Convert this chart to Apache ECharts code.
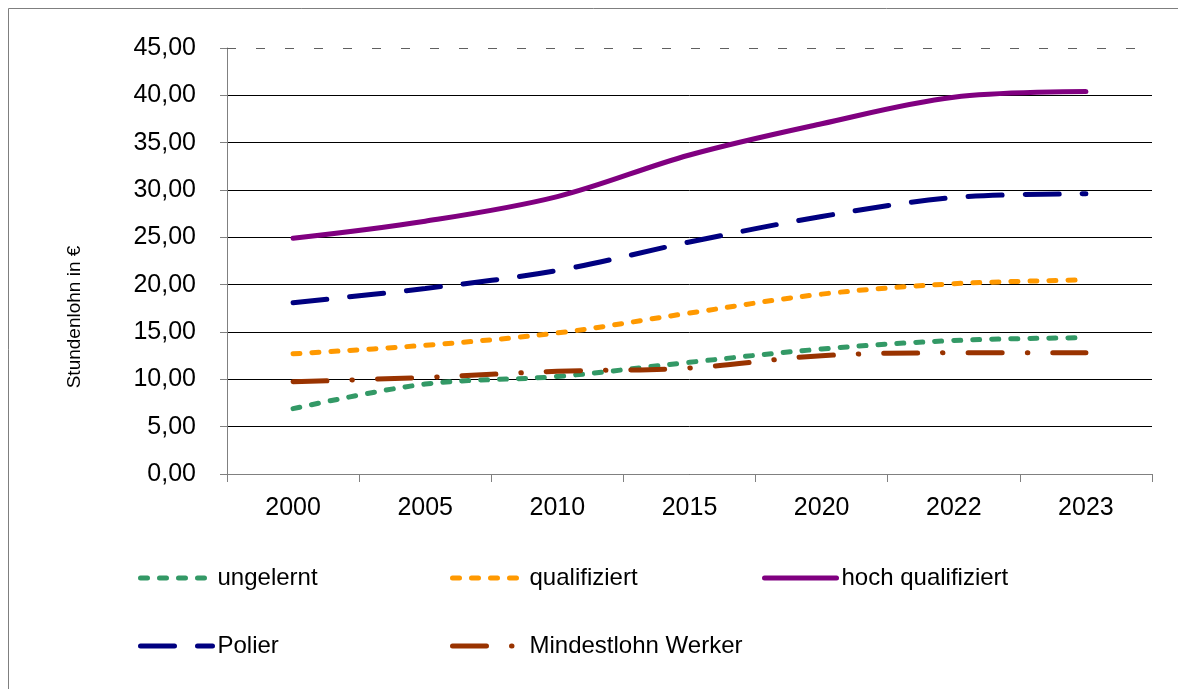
<!DOCTYPE html>
<html>
<head>
<meta charset="utf-8">
<script src="https://cdn.jsdelivr.net/npm/echarts@6/dist/echarts.min.js"></script>
<style>
html,body{margin:0;padding:0;background:#fff;}
#chart{width:1178px;height:689px;}
</style>
</head>
<body>
<div id="chart"></div>
<script>
const categories = ['2000', '2005', '2010', '2015', '2020', '2022', '2023'];
const ungelernt = [6.9, 9.5, 10.3, 11.8, 13.2, 14.1, 14.4];
const qualifiziert = [12.7, 13.6, 14.9, 17.0, 19.0, 20.1, 20.5];
const hochQualifiziert = [24.9, 26.7, 29.3, 33.7, 37.0, 39.8, 40.4];
const polier = [18.1, 19.6, 21.5, 24.5, 27.2, 29.2, 29.6];
const mindestlohn = [9.75, 10.2, 10.85, 11.2, 12.5, 12.8, 12.8];
const yTicks = [0, 5, 10, 15, 20, 25, 30, 35, 40, 45];

const FONT = '"Liberation Sans", Arial, sans-serif';
const chart = echarts.init(document.getElementById('chart'), null, {renderer: 'canvas'});

const dashShort = [7, 12];
const dashLong = [34, 23];
const dashDot = [34, 25, 0.5, 25];

function legendAt(name, left, top, dash, color) {
  return {
    data: [name], left: left, top: top, orient: 'horizontal', padding: 0,
    itemWidth: 72, itemHeight: 14, itemGap: 4,
    textStyle: {fontFamily: FONT, fontSize: 24, color: '#000'},
    itemStyle: {opacity: 0},
    lineStyle: {width: 5, type: dash, cap: 'round', color: color},
    selectedMode: false
  };
}

function lineSeries(name, data, color, type, width) {
  return {
    name: name, type: 'line', data: data, smooth: 0.35,
    symbol: 'none', showSymbol: false,
    lineStyle: {color: color, width: width, type: type, cap: 'round'},
    itemStyle: {color: color},
    emphasis: {disabled: true},
    z: 3
  };
}

const splitColors = yTicks.map((v, i) => i === yTicks.length - 1 ? 'rgba(0,0,0,0)' : '#000');

const option = {
  animation: false,
  backgroundColor: '#fff',
  textStyle: {fontFamily: FONT},
  grid: {left: 227, right: 26, top: 48, bottom: 215, containLabel: false},
  xAxis: {
    type: 'category', data: categories, boundaryGap: true,
    axisLine: {lineStyle: {color: '#808080', width: 1}},
    axisTick: {show: true, length: 8, inside: false, lineStyle: {color: '#808080'}},
    axisLabel: {fontFamily: FONT, fontSize: 25, color: '#000', margin: 22}
  },
  yAxis: {
    type: 'value', min: 0, max: 45, interval: 5,
    axisLine: {show: true, lineStyle: {color: '#808080', width: 1}},
    axisTick: {show: true, length: 7, lineStyle: {color: '#808080'}},
    axisLabel: {fontFamily: FONT, fontSize: 25, color: '#000', margin: 31,
      formatter: v => v.toFixed(2).replace('.', ',')},
    splitLine: {show: true, lineStyle: {color: splitColors, width: 1}}
  },
  legend: [
    legendAt('ungelernt', 138, 566, dashShort, '#339966'),
    legendAt('qualifiziert', 450, 566, dashShort, '#ff9900'),
    legendAt('hoch qualifiziert', 762, 566, 'solid', '#800080'),
    legendAt('Polier', 138, 634, dashLong, '#000080'),
    legendAt('Mindestlohn Werker', 450, 634, dashDot, '#993300')
  ],
  graphic: [
    {type: 'rect', shape: {x: 8.5, y: 8.5, width: 1200, height: 700},
     style: {fill: 'none', stroke: '#7f7f7f', lineWidth: 1}, silent: true},
    {type: 'text', x: 75, y: 317, rotation: Math.PI / 2, silent: true,
     style: {text: 'Stundenlohn in €', font: '19px ' + FONT, fill: '#000',
       textAlign: 'center', textVerticalAlign: 'middle'}}
  ],
  series: [
    Object.assign(lineSeries('ungelernt', ungelernt, '#339966', dashShort, 5), {
      markLine: {silent: true, symbol: 'none', label: {show: false},
        lineStyle: {color: '#606060', type: [9, 20], width: 1},
        data: [{yAxis: 45}]}
    }),
    lineSeries('qualifiziert', qualifiziert, '#ff9900', dashShort, 5),
    lineSeries('hoch qualifiziert', hochQualifiziert, '#800080', 'solid', 5),
    lineSeries('Polier', polier, '#000080', dashLong, 5),
    lineSeries('Mindestlohn Werker', mindestlohn, '#993300', dashDot, 5)
  ]
};
chart.setOption(option);
</script>
</body>
</html>
